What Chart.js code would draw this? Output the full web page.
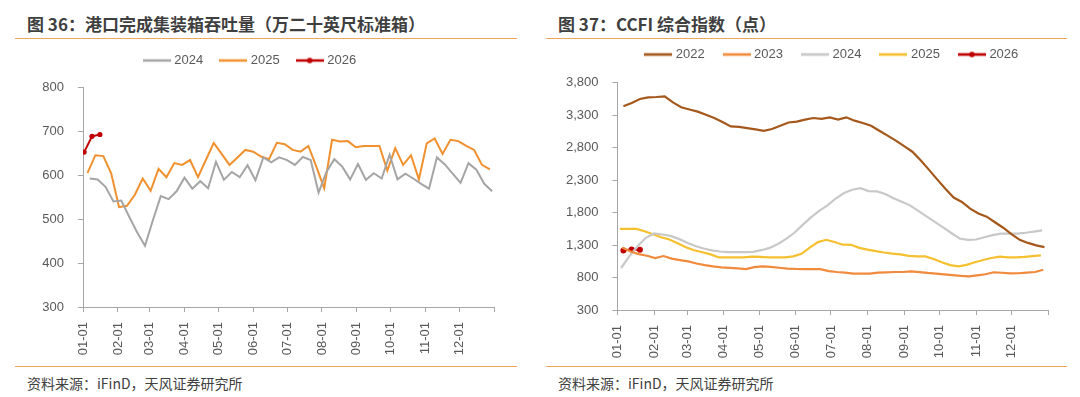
<!DOCTYPE html>
<html>
<head>
<meta charset="utf-8">
<script src="https://cdn.jsdelivr.net/npm/chart.js@4.4.1/dist/chart.umd.min.js"></script>
<style>
  body { margin: 0; width: 1080px; height: 397px; background: #fff; position: relative; overflow: hidden;
         font-family: "Noto Sans CJK SC", "Noto Sans", sans-serif; }
  .title { position: absolute; top: 13px; font-size: 17px; font-weight: bold; color: #3f3f3f; line-height: 22px; white-space: nowrap; }
  .rule { position: absolute; height: 1px; background: #eea55e; z-index: 2; }
  .source { position: absolute; top: 373px; font-size: 14px; color: #404040; line-height: 20px; white-space: nowrap; }
  .box { position: absolute; }
</style>
</head>
<body>
<div class="title" style="left:27px">图 36：港口完成集装箱吞吐量（万二十英尺标准箱）</div>
<div class="rule" style="left:15px; width:502px; top:38px"></div>
<div class="box" style="left:0px; top:35px; width:520px; height:327px"><canvas id="teu" width="520" height="327"></canvas></div>
<div class="rule" style="left:15px; width:502px; top:366px"></div>
<div class="source" style="left:27px">资料来源：iFinD，天风证券研究所</div>

<div class="title" style="left:558px">图 37：CCFI 综合指数（点）</div>
<div class="rule" style="left:546px; width:521px; top:38px"></div>
<div class="box" style="left:540px; top:27px; width:540px; height:338px"><canvas id="ccfi" width="540" height="338"></canvas></div>
<div class="rule" style="left:546px; width:521px; top:366px"></div>
<div class="source" style="left:558px">资料来源：iFinD，天风证券研究所</div>

<script>
// x axis: day of year, ticks at month starts
const monthLabels = ['01-01','02-01','03-01','04-01','05-01','06-01','07-01','08-01','09-01','10-01','11-01','12-01',''];
const monthDays = [0, 31, 59, 90, 120, 151, 181, 212, 243, 273, 304, 334, 365];

// 图36 port container throughput, weekly (万TEU)
const teu2024 = [592,590,573,540,542,505,470,439,497,552,545,563,594,569,586,570,630,589,607,595,
                 622,588,640,629,640,634,623,641,634,560,607,636,619,590,625,589,604,592,646,590,
                 603,592,580,569,640,624,603,582,627,612,580,563];
const teu2025 = [605,645,643,604,527,530,555,592,564,614,595,627,623,634,595,634,673,648,623,640,
                 657,653,642,636,673,670,657,653,666,619,570,680,676,677,663,666,666,666,610,661,
                 623,645,590,672,683,648,680,677,666,657,623,613];
const teu2026 = [652, 688, 692];
const teuStart = { 2024: 6, 2025: 4, 2026: 1 };

// 图37 CCFI composite index, weekly
const ccfi2022 = [3433,3485,3546,3571,3577,3586,3494,3420,3385,3352,3303,3253,3192,3125,3118,3099,3080,3055,3085,3134,
                  3185,3198,3228,3254,3242,3264,3228,3264,3213,3177,3135,3058,2982,2905,2820,2735,2605,2460,2310,2165,
                  2030,1963,1860,1785,1736,1650,1566,1468,1380,1332,1294,1268];
const ccfi2023 = [1263,1200,1160,1135,1100,1130,1090,1068,1047,1015,990,970,957,948,940,928,960,972,962,950,
                  937,932,930,930,928,898,885,875,860,859,860,875,880,885,885,895,883,870,860,848,
                  836,825,818,834,850,880,873,862,865,876,885,920];
const ccfi2024 = [946,1125,1280,1410,1478,1462,1440,1394,1335,1285,1246,1218,1200,1191,1191,1191,1195,1220,1255,1316,
                  1395,1488,1610,1725,1825,1910,2015,2100,2150,2175,2129,2125,2085,2020,1965,1910,1825,1740,1655,1570,
                  1485,1400,1378,1385,1420,1452,1476,1476,1476,1488,1505,1525];
const ccfi2025 = [1548,1548,1548,1512,1465,1420,1385,1328,1265,1220,1188,1155,1109,1109,1109,1109,1120,1118,1109,1109,
                  1109,1125,1165,1260,1345,1380,1346,1305,1303,1256,1228,1207,1185,1168,1155,1134,1125,1125,1085,1035,
                  990,972,995,1035,1070,1100,1122,1109,1109,1118,1130,1140];
const ccfi2026 = [1215, 1232, 1228];
const ccfiStart = { 2022: 5, 2023: 4, 2024: 3, 2025: 2, 2026: 5 };

const axisColor = '#a6a6a6';
const textColor = '#595959';
const tickFont = { family: '"Liberation Sans", Arial, sans-serif', size: 13 };

// weekly series -> {x: day of year, y}
function weekly(values, start) {
  return values.map((v, i) => ({ x: start + 7 * i, y: v }));
}

function legendIcon(color, lineW, dot) {
  let c = document.createElement('canvas');
  c.width = 28; c.height = 8;
  let g = c.getContext('2d');
  g.strokeStyle = color; g.lineWidth = lineW;
  g.beginPath(); g.moveTo(0, 4); g.lineTo(28, 4); g.stroke();
  if (dot) {
    g.fillStyle = color;
    g.beginPath(); g.arc(14, 4, 2.8, 0, Math.PI * 2); g.fill();
  }
  return c;
}

function line(label, data, color, width, marker) {
  return {
    label: label, data: data, borderColor: color, backgroundColor: color,
    borderWidth: width, tension: 0,
    pointRadius: marker ? marker : 0, pointBorderWidth: 0, pointHoverRadius: 0,
    icon: legendIcon(color, width + 0.5, !!marker)
  };
}

// fixed legend height so the plot top lands where it should
function legendHeightPlugin(h) {
  return {
    id: 'legendHeight',
    afterInit(chart) {
      const fit = chart.legend.fit;
      chart.legend.fit = function () { fit.call(this); this.height = h; };
    }
  };
}

function makeOptions(o) {
  return {
    responsive: false,
    animation: false,
    layout: { padding: { left: o.padLeft, right: o.padRight, top: 0, bottom: 0 } },
    plugins: {
      tooltip: { enabled: false },
      legend: {
        position: 'top',
        fullSize: o.fullLegend,
        labels: {
          usePointStyle: true,
          pointStyleWidth: 22,
          padding: o.legendPad,
          color: textColor,
          font: tickFont,
          generateLabels: (chart) =>
            Chart.defaults.plugins.legend.labels.generateLabels(chart).map((item, i) => {
              item.pointStyle = chart.data.datasets[i].icon;
              return item;
            })
        }
      }
    },
    scales: {
      x: {
        type: 'linear', min: 0, max: 365,
        afterBuildTicks: (s) => { s.ticks = monthDays.map(d => ({ value: d })); },
        afterFit: (s) => { s.height = o.xHeight; },
        ticks: {
          autoSkip: false, minRotation: 90, maxRotation: 90, padding: 10,
          color: textColor, font: tickFont,
          callback: (v, i) => monthLabels[i]
        },
        grid: { drawOnChartArea: false, drawTicks: true, tickLength: 5, color: axisColor },
        border: { color: axisColor }
      },
      y: {
        min: o.yMin, max: o.yMax,
        afterFit: (s) => { s.width = o.yWidth; },
        ticks: { stepSize: o.yStep, padding: 14, color: textColor, font: tickFont },
        grid: { drawOnChartArea: false, drawTicks: true, tickLength: 5, color: axisColor },
        border: { color: axisColor }
      }
    }
  };
}

new Chart(document.getElementById('teu'), {
  type: 'line',
  data: {
    datasets: [
      line('2024', weekly(teu2024, teuStart[2024]), '#a5a5a5', 2),
      line('2025', weekly(teu2025, teuStart[2025]), '#f0902f', 2),
      line('2026', weekly(teu2026, teuStart[2026]), '#c00000', 2, 2.6)
    ]
  },
  options: makeOptions({
    padLeft: 3, padRight: 21, fullLegend: true, legendPad: 19,
    xHeight: 55, yWidth: 80, yMin: 300, yMax: 800, yStep: 100
  }),
  plugins: [legendHeightPlugin(52)]
});

new Chart(document.getElementById('ccfi'), {
  type: 'line',
  data: {
    datasets: [
      line('2022', weekly(ccfi2022, ccfiStart[2022]), '#a5581c', 2.2),
      line('2023', weekly(ccfi2023, ccfiStart[2023]), '#f08a3c', 2.2),
      line('2024', weekly(ccfi2024, ccfiStart[2024]), '#c8c8c8', 2.2),
      line('2025', weekly(ccfi2025, ccfiStart[2025]), '#f5c030', 2.2),
      line('2026', weekly(ccfi2026, ccfiStart[2026]), '#c00000', 2.2, 3)
    ]
  },
  options: makeOptions({
    padLeft: 0, padRight: 32, fullLegend: false, legendPad: 21,
    xHeight: 55, yWidth: 77.5, yMin: 300, yMax: 3800, yStep: 500
  }),
  plugins: [legendHeightPlugin(55.5)]
});
</script>
</body>
</html>
